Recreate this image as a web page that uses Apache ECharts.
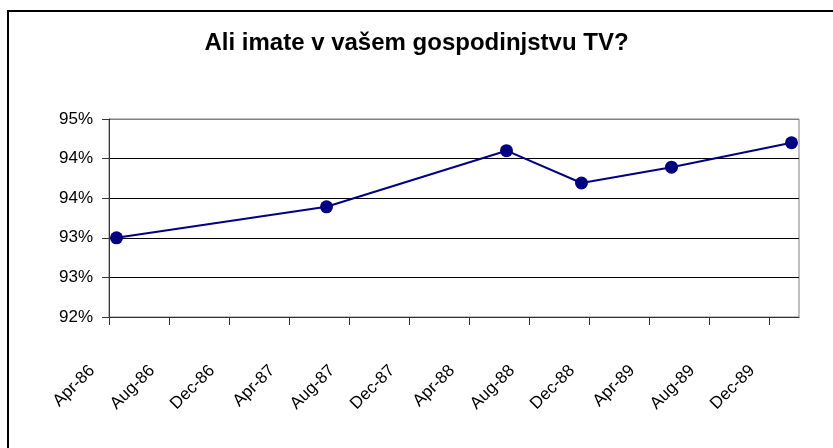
<!DOCTYPE html>
<html>
<head>
<meta charset="utf-8">
<script src="https://cdn.jsdelivr.net/npm/echarts@6/dist/echarts.min.js"></script>
<style>
    html, body { margin: 0; padding: 0; background: #fff; }
    #main { width: 833px; height: 448px; }
</style>
</head>
<body>
<div id="main"></div>
<script type="text/javascript">
    // 数据：调查月份和拥有电视的家庭比例（%）
    var surveyMonths = ['1986-04', '1987-06', '1988-06', '1988-11', '1989-05', '1990-01'];
    var tvShare = [93.2, 93.67, 94.52, 94.03, 94.27, 94.64];
    // x 轴刻度标签（每 4 个月一个）
    var tickLabels = ['Apr-86', 'Aug-86', 'Dec-86', 'Apr-87', 'Aug-87', 'Dec-87',
        'Apr-88', 'Aug-88', 'Dec-88', 'Apr-89', 'Aug-89', 'Dec-89'];

    // 月份序号，从 Apr-86 开始；点放在月份的中间
    function monthIndex(s) {
        var y = parseInt(s.substring(0, 4));
        var m = parseInt(s.substring(5, 7));
        return (y - 1986) * 12 + (m - 4) + 0.5;
    }

    var seriesData = [];
    for (var i = 0; i < surveyMonths.length; i++) {
        seriesData.push([monthIndex(surveyMonths[i]), tvShare[i]]);
    }
    var tickValues = [];
    for (var i = 0; i < tickLabels.length; i++) {
        tickValues.push(i * 4);
    }

    var myChart = echarts.init(document.getElementById('main'));

    var option = {
        backgroundColor: '#fff',
        animation: false,
        title: {
            text: 'Ali imate v vašem gospodinjstvu TV?',
            left: 'center',
            top: 26,
            textStyle: {
                fontFamily: 'Liberation Sans, Arial, sans-serif',
                fontSize: 24,
                fontWeight: 'bold',
                color: '#000'
            }
        },
        graphic: [{
            type: 'rect',
            shape: { x: 8, y: 11, width: 840, height: 460 },
            style: { fill: 'none', stroke: '#000', lineWidth: 2 },
            silent: true
        }],
        grid: {
            left: 109,
            right: 34,
            top: 119,
            bottom: 131,
            show: true,
            borderColor: '#808080',
            borderWidth: 1
        },
        xAxis: {
            type: 'value',
            min: 0,
            max: 46,
            interval: 4,
            axisLine: { lineStyle: { color: '#333', width: 1 } },
            axisTick: {
                show: true,
                length: 8,
                customValues: tickValues,
                lineStyle: { color: '#333' }
            },
            axisLabel: {
                rotate: 45,
                margin: 34,
                padding: [0, 24, 0, 0],
                customValues: tickValues,
                fontFamily: 'Liberation Sans, Arial, sans-serif',
                fontSize: 17,
                color: '#000',
                formatter: function (v) {
                    return tickLabels[Math.round(v / 4)];
                }
            },
            splitLine: { show: false }
        },
        yAxis: {
            type: 'value',
            min: 92,
            max: 95,
            interval: 0.6,
            axisLine: { show: true, lineStyle: { color: '#333', width: 1 } },
            axisTick: { show: true, length: 7, lineStyle: { color: '#333' } },
            axisLabel: {
                margin: 16,
                fontFamily: 'Liberation Sans, Arial, sans-serif',
                fontSize: 17,
                color: '#000',
                formatter: function (v) {
                    return Math.round(v) + '%';
                }
            },
            splitLine: {
                show: true,
                lineStyle: { color: ['#000', '#000', '#000', '#000', '#000', '#808080'], width: 1 }
            }
        },
        series: [{
            type: 'line',
            data: seriesData,
            symbol: 'circle',
            symbolSize: 13,
            lineStyle: { color: '#000080', width: 2 },
            itemStyle: { color: '#000080' }
        }]
    };
    myChart.setOption(option);
</script>
</body>
</html>
